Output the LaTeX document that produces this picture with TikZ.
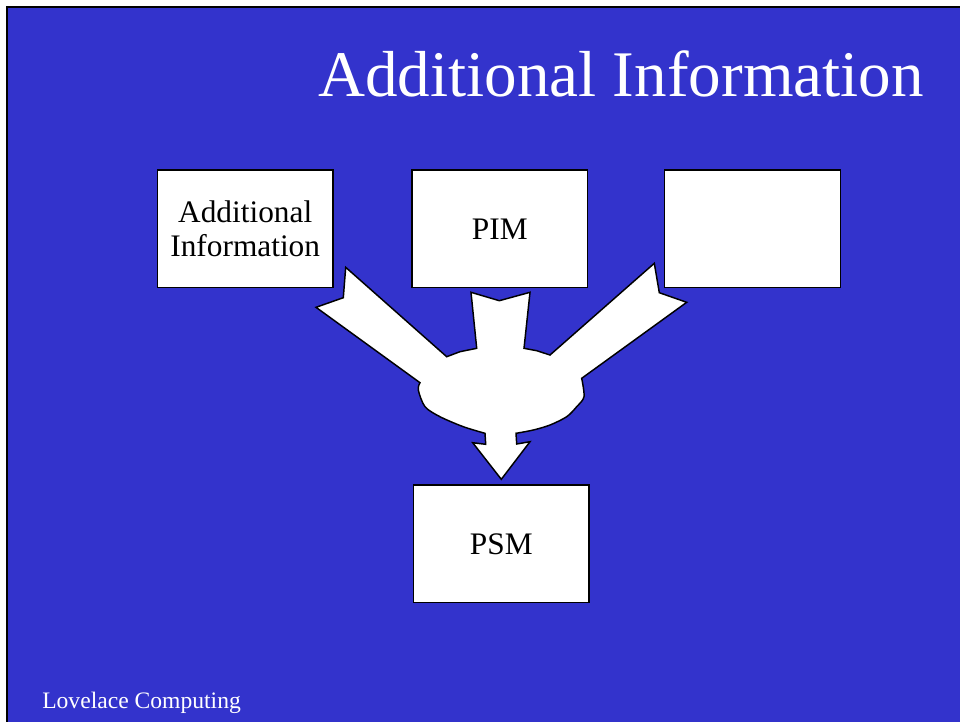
\documentclass[tikz,border=0pt]{standalone}
\usepackage{fontspec}
\setmainfont{Liberation Serif}
\definecolor{slideblue}{RGB}{51,51,204}
\begin{document}
\begin{tikzpicture}[x=0.75pt,y=-0.75pt,
  box/.style={draw=black,line width=1.1pt,fill=white,minimum width=131.8pt,minimum height=88.3pt,inner sep=0pt,align=center,font=\fontsize{23.5pt}{25pt}\selectfont,text=black},
  blobshape/.style={draw=black,line width=1.1pt,fill=white,line join=miter}]
\useasboundingbox (0,0) rectangle (960,722);
\fill[white] (0,0) rectangle (960,722);
\fill[slideblue] (7,7) rectangle (960,722);
\draw[black,line width=1.2pt] (960,7) -- (7,7) -- (7,722);
\node[anchor=base east,text=white,font=\fontsize{48.8pt}{50pt}\selectfont,inner sep=0pt] (title) at (924,96) {Additional Information};
\node[box] (addinfo) at (245.2,228.8) {Additional\\Information};
\node[box] (pim) at (499.8,228.8) {PIM};
\node[box] (empty) at (752.5,228.8) {};
\node[box] (psm) at (501.3,543.8) {PSM};
\draw[blobshape] (345.7,267.3) -- (446.7,356.7) -- (460,351.7) -- (476.7,348.3) -- (471,292.3) -- (499.3,300.7) -- (530,292.3) -- (524,348.3) -- (536.7,350.7) -- (550,355) -- (654.3,263.3) -- (659.3,292.7) -- (686.7,302.3) -- (581.7,378.3)
  -- plot[smooth] coordinates {(581.7,378.3) (584,396.7) (576.7,406.7) (566.7,416.7) (550,425) (533.3,430) (516,433.3)}
  -- (516.7,444) -- (530,441.7) -- (501.3,479.3) -- (472.7,442.7) -- (485.7,444.3) -- (485,433.3)
  -- plot[smooth] coordinates {(485,433.3) (463.3,426.7) (440,416.7) (425,406.7) (418.3,390) (420,382.7)}
  -- (316,307.3) -- (343.3,297.7) -- cycle;
\node[anchor=base west,text=white,font=\fontsize{17.7pt}{19pt}\selectfont,inner sep=0pt] (footer) at (42,708) {Lovelace Computing};
\end{tikzpicture}
\end{document}
